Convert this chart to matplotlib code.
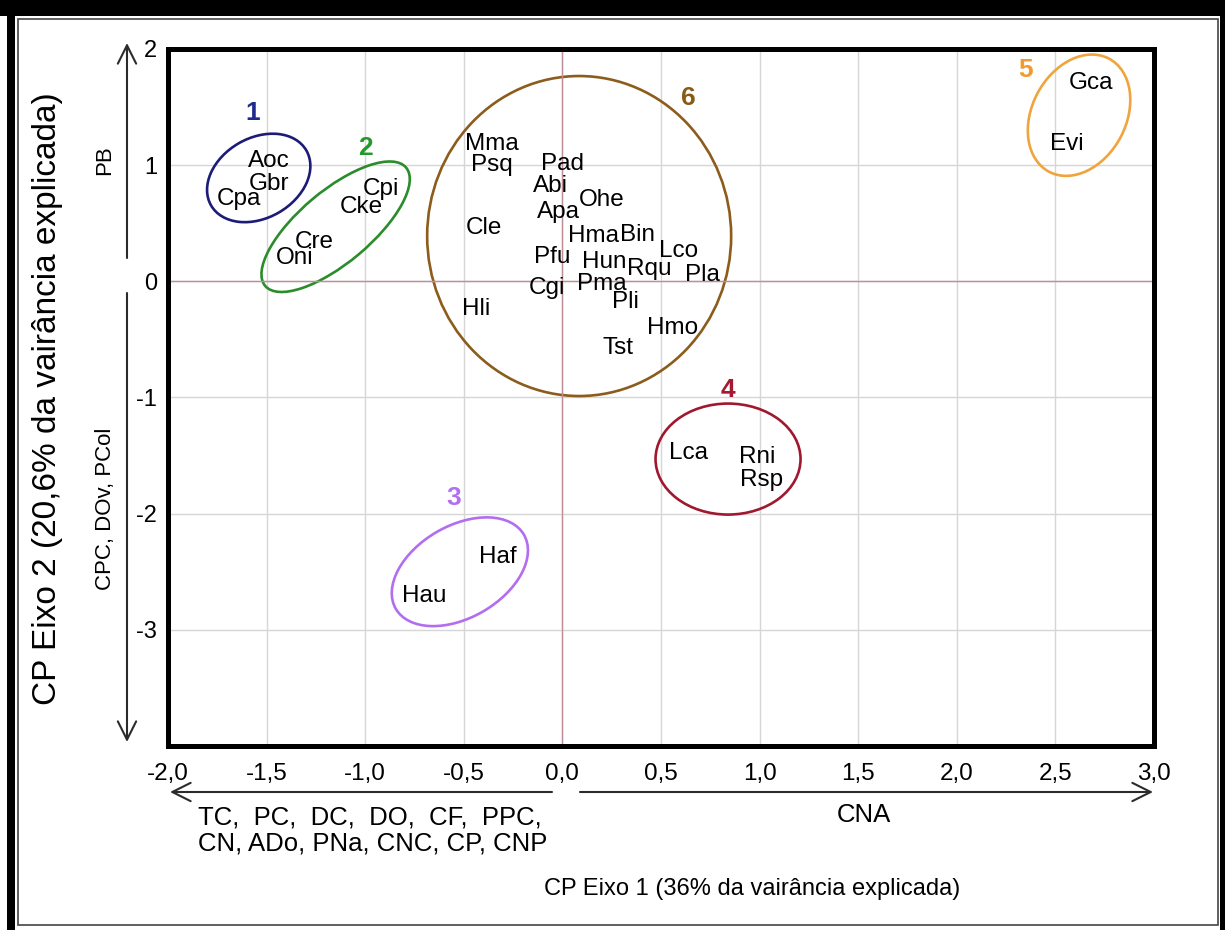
import matplotlib
matplotlib.use("Agg")
import matplotlib.pyplot as plt
import numpy as np
from matplotlib.patches import Ellipse, Rectangle
from matplotlib.transforms import Affine2D

plt.rcParams["font.family"] = ["Liberation Sans", "DejaVu Sans"]

# especies e escores nos dois primeiros eixos
species = ["Aoc", "Gbr", "Cpa",
           "Cpi", "Cke", "Cre", "Oni",
           "Haf", "Hau",
           "Lca", "Rni", "Rsp",
           "Gca", "Evi",
           "Mma", "Psq", "Pad", "Abi", "Ohe", "Apa", "Cle", "Hma", "Bin",
           "Lco", "Pfu", "Hun", "Rqu", "Pla", "Cgi", "Pma", "Pli", "Hli",
           "Hmo", "Tst"]
pc1 = [-1.49, -1.49, -1.64,
       -0.92, -1.02, -1.26, -1.36,
       -0.33, -0.70,
       0.64, 0.99, 1.01,
       2.68, 2.56,
       -0.36, -0.36, 0.00, -0.06, 0.20, -0.02, -0.40, 0.16, 0.38,
       0.59, -0.05, 0.21, 0.44, 0.71, -0.08, 0.20, 0.32, -0.44,
       0.56, 0.28]
pc2 = [1.06, 0.86, 0.73,
       0.82, 0.66, 0.36, 0.22,
       -2.35, -2.69,
       -1.46, -1.49, -1.69,
       1.73, 1.20,
       1.20, 1.02, 1.03, 0.84, 0.72, 0.62, 0.48, 0.41, 0.42,
       0.28, 0.23, 0.19, 0.13, 0.08, -0.04, 0.00, -0.16, -0.22,
       -0.38, -0.55]

# grupos: rotulo, posicao do numero, centro da elipse
groups = ["1", "2", "3", "4", "5", "6"]
group_x = [-1.57, -1.00, -0.55, 0.84, 2.35, 0.64]
group_y = [1.47, 1.17, -1.84, -0.91, 1.84, 1.60]
ell_x = [-1.54, -1.15, -0.52, 0.84, 2.62, 0.085]
ell_y = [0.89, 0.47, -2.50, -1.53, 1.43, 0.39]
# semi-eixos (px) e inclinacao (graus)
ell_a = [55, 92, 74, 72.5, 64, 152]
ell_b = [40, 36, 46, 55.5, 47, 160]
ell_ang = [30, 40, 30, 0, 62, 0]
ell_colors = ["#1c1c78", "#2a8c2a", "#b36ef0", "#a01830", "#f0a43c", "#8b5c1c"]
num_colors = ["#1f2a8c", "#22992b", "#b46ef0", "#a51a30", "#f09a30", "#8a5a14"]

xticks = np.arange(-2.0, 3.01, 0.5)
yticks = [-3, -2, -1, 0, 1, 2]

W, H = 1225, 930


def fx(x):
    return x / W


def fy(y):
    return 1 - y / H


fig = plt.figure(figsize=(W / 100, H / 100), dpi=100)

# moldura externa
fig.add_artist(Rectangle((0, fy(16)), 1, 16 / H, transform=fig.transFigure,
                         color="black", lw=0))
fig.add_artist(Rectangle((fx(7), 0), 8 / W, 1, transform=fig.transFigure,
                         color="black", lw=0))
fig.add_artist(Rectangle((fx(1220), 0), 5 / W, 1, transform=fig.transFigure,
                         color="black", lw=0))
fig.add_artist(Rectangle((fx(18), fy(925)), (1218 - 18) / W, (925 - 19) / H,
                         transform=fig.transFigure, fill=False,
                         edgecolor="#444444", lw=1.2))

ax = fig.add_axes([fx(168), fy(746), (1154 - 168) / W, (746 - 49) / H])
ax.set_xlim(-2, 3)
ax.set_ylim(-4, 2)
ax.set_xticks(xticks)
ax.set_xticklabels([f"{v:.1f}".replace(".", ",") for v in xticks], fontsize=17.5)
ax.set_yticks(yticks)
ax.set_yticklabels([str(v) for v in yticks], fontsize=17)
ax.tick_params(length=0)
ax.tick_params(axis="x", pad=12)
ax.tick_params(axis="y", pad=8)
ax.grid(True, color="#d6d6d6", lw=1)
ax.axhline(0, color="#bf8f99", lw=1)
ax.axvline(0, color="#bf8f99", lw=1)
for sp in ax.spines.values():
    sp.set_linewidth(3.6)
    sp.set_color("black")
ax.set_axisbelow(True)

# escala px por unidade para desenhar elipses em pixels
p0 = ax.transData.transform((0, 0))
p1 = ax.transData.transform((1, 1))
sx, sy = p1[0] - p0[0], p1[1] - p0[1]

for i, g in enumerate(groups):
    tr = Affine2D().scale(1 / sx, 1 / sy).translate(ell_x[i], ell_y[i]) + ax.transData
    ax.add_patch(Ellipse((0, 0), 2 * ell_a[i], 2 * ell_b[i], angle=ell_ang[i],
                         transform=tr, fill=False, edgecolor=ell_colors[i], lw=1.9))
    ax.text(group_x[i], group_y[i], g, color=num_colors[i], fontsize=19,
            fontweight="bold", ha="center", va="center_baseline")

for name, x, y in zip(species, pc1, pc2):
    ax.text(x, y, name, fontsize=17.5, ha="center", va="center_baseline", color="black")

# setas dos eixos
arrow = dict(arrowstyle="->,head_length=0.6,head_width=0.3", lw=1.5,
             color="#2b2b2b", mutation_scale=22, shrinkA=0, shrinkB=0)
for start, tip in [((127, 258), (127, 43)), ((127, 293), (127, 742)),
                   ((552, 792), (170, 792)), ((580, 792), (1153, 792))]:
    ax.annotate("", xy=(fx(tip[0]), fy(tip[1])), xytext=(fx(start[0]), fy(start[1])),
                xycoords="figure fraction", textcoords="figure fraction",
                arrowprops=arrow, annotation_clip=False)

fig.text(fx(105), fy(160), "PB", rotation=90, ha="center", va="center",
         fontsize=16)
fig.text(fx(105), fy(509), "CPC, DOv, PCol", rotation=90, ha="center", va="center",
         fontsize=16)
fig.text(fx(198), fy(817), "TC,  PC,  DC,  DO,  CF,  PPC,", ha="left", va="center",
         fontsize=18.5)
fig.text(fx(198), fy(844), "CN, ADo, PNa, CNC, CP, CNP", ha="left", va="center",
         fontsize=18.5)
fig.text(fx(864), fy(815), "CNA", ha="center", va="center", fontsize=18.5)
fig.text(fx(752), fy(889), "CP Eixo 1 (36% da vairância explicada)", ha="center",
         va="center", fontsize=17)
fig.text(fx(48), fy(399), "CP Eixo 2 (20,6% da vairância explicada)", rotation=90,
         ha="center", va="center", fontsize=24)

fig.savefig("out.png", dpi=100)
